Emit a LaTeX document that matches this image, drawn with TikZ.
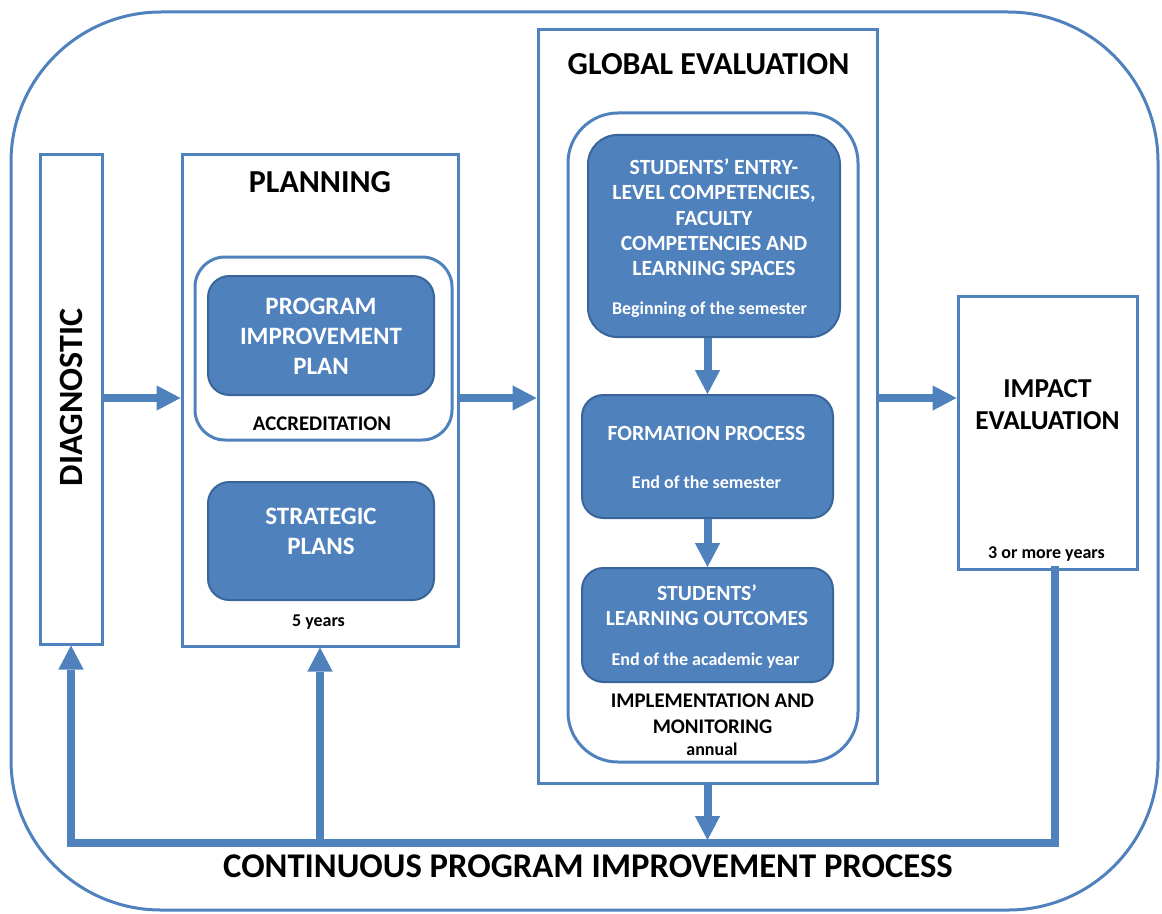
\documentclass[tikz,border=0pt]{standalone}
\usepackage{fontspec}
\setmainfont{Carlito}
\usetikzlibrary{arrows.meta,fit,calc}
\definecolor{lineblue}{HTML}{4F81BD}
\definecolor{fillblue}{HTML}{4F81BD}
\definecolor{edgeblue}{HTML}{3A659A}
\newcommand{\fsz}[2]{\fontsize{#1}{#2}\selectfont}
\begin{document}
\begin{tikzpicture}[x=0.75pt,y=-0.75pt,
  frame/.style={draw=lineblue, line width=2.25pt, inner sep=0pt},
  roundframe/.style={frame, rounded corners=#1},
  darkbox/.style={draw=edgeblue, fill=fillblue, line width=1.5pt, rounded corners=16pt, inner sep=0pt},
  title/.style={font=\bfseries\fsz{24pt}{28pt}, inner sep=0pt},
  wbig/.style={text=white, font=\bfseries\fsz{18.75pt}{22.5pt}, align=center, inner sep=0pt},
  wtext/.style={text=white, font=\bfseries\fsz{16.25pt}{19pt}, align=center, inner sep=0pt},
  wsmall/.style={text=white, font=\bfseries\fsz{13.5pt}{16pt}, inner sep=0pt},
  btext/.style={font=\bfseries\fsz{15.6pt}{19.5pt}, align=center, inner sep=0pt},
  small/.style={font=\bfseries\fsz{13.5pt}{16pt}, inner sep=0pt},
  imptitle/.style={font=\bfseries\fsz{20.5pt}{24.5pt}, align=center, inner sep=0pt},
  arr/.style={draw=lineblue, line width=6pt, -{Triangle[length=18pt,width=19pt,line width=0pt]}},
  fb/.style={draw=lineblue, line width=6.5pt, line cap=rect}
]
\useasboundingbox (0,0) rectangle (1162,913);

% frames and boxes
\node[frame, rounded corners=112.5pt, fit={(11,12) (1158,910)}] (outer) {};
\node[frame, fit={(40,154) (102,644)}] (diag) {};
\node[frame, fit={(182,154) (458,646)}] (plan) {};
\node[roundframe=22.5pt, fit={(195,257) (452,440)}] (accr) {};
\node[darkbox, fit={(208,276) (434,395)}] (pip) {};
\node[darkbox, fit={(208,482) (434,600)}] (strat) {};
\node[frame, fit={(538,30) (877,783)}] (glob) {};
\node[roundframe=37.5pt, fit={(568,113) (858,762)}] (impl) {};
\node[darkbox, rounded corners=22pt, fit={(588,135) (840,337)}] (entry) {};
\node[darkbox, fit={(582,395) (833,518)}] (form) {};
\node[darkbox, fit={(582,568) (833,682)}] (outc) {};
\node[frame, fit={(958,296) (1137,569)}] (imp) {};

% texts
\node[rotate=90, font=\bfseries\fsz{25.5pt}{30pt}, inner sep=0pt] (diagT) at (71,397.5) {DIAGNOSTIC};
\node[title, anchor=base] (planT) at (320,192.3) {PLANNING};
\node[wbig] (pipT) at (321,336.5) {PROGRAM\\IMPROVEMENT\\PLAN};
\node[btext, anchor=base] (accrT) at (322,430) {ACCREDITATION};
\node[wbig] (stratT) at (321,531) {STRATEGIC\\PLANS};
\node[small, anchor=base] (fiveT) at (318.5,626.7) {5 years};

\node[title, anchor=base] (globT) at (708.5,75) {GLOBAL EVALUATION};
\node[wtext] (entryT) at (714,217.5) {STUDENTS’ ENTRY-\\LEVEL COMPETENCIES,\\FACULTY\\COMPETENCIES AND\\LEARNING SPACES};
\node[wsmall, anchor=base] (entryS) at (709.5,314) {Beginning of the semester};
\node[wtext, anchor=base] (formT) at (706.5,440) {FORMATION PROCESS};
\node[wsmall, anchor=base] (formS) at (706.5,488.5) {End of the semester};
\node[wtext] (outcT) at (707,605.5) {STUDENTS’\\LEARNING OUTCOMES};
\node[wsmall, anchor=base] (outcS) at (705.5,665.5) {End of the academic year};
\node[btext] (implT) at (712.5,714) {IMPLEMENTATION AND\\MONITORING};
\node[small, anchor=base] (annT) at (712,755) {annual};

\node[imptitle] (impT) at (1047.5,404.7) {IMPACT\\EVALUATION};
\node[small, anchor=base] (impS) at (1046.5,558) {3 or more years};

\node[font=\bfseries\fsz{26pt}{30pt}, anchor=base, inner sep=0pt] (cpip) at (588,877) {CONTINUOUS PROGRAM IMPROVEMENT PROCESS};

% connectors
\coordinate (ay) at (0,398);
\coordinate (bl) at (71,843);
\coordinate (br) at (1055,843);
\coordinate (bt) at (0,840);
\draw[arr] (diag.east |- ay) -- (plan.west |- ay);
\draw[arr] (plan.east |- ay) -- (glob.west |- ay);
\draw[arr] (glob.east |- ay) -- (imp.west |- ay);
\draw[arr] (entry.south -| form.north) -- (form.north);
\draw[arr] (form.south) -- (outc.north);
\draw[fb] (br |- imp.south) -- (br) -- (bl);
\draw[arr] (bl) -- (diag.south);
\draw[arr] (plan.south |- bl) -- (plan.south);
\draw[arr] (glob.south) -- (glob.south |- bt);
\end{tikzpicture}
\end{document}
